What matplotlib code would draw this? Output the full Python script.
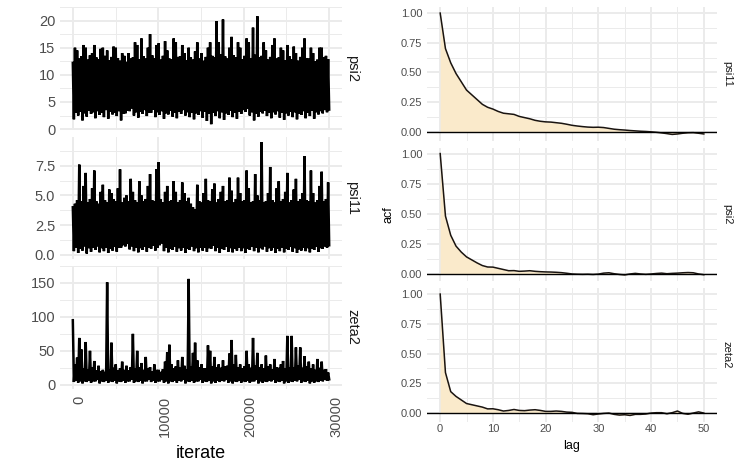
import matplotlib.pyplot as plt
import numpy as np

plt.rcParams['font.family'] = ['Liberation Sans', 'DejaVu Sans']

# trace data: alternating max / min per 250-iteration block
n_iter = 30000
psi2_hi = [12.2, 15.0, 14.5, 13.0, 13.4, 15.5, 15.0, 12.8, 13.6, 14.0,
           15.5, 13.2, 12.9, 14.8, 15.0, 13.5, 14.5, 12.7, 13.3, 15.2,
           15.0, 13.1, 12.6, 14.0, 13.5, 12.4, 14.0, 13.0, 13.2, 16.0,
           15.5, 12.9, 16.7, 13.4, 13.0, 15.0, 17.5, 13.6, 13.1, 15.5,
           15.8, 12.8, 13.5, 16.2, 14.5, 13.0, 12.9, 16.7, 16.0, 13.3,
           13.4, 15.5, 14.0, 12.7, 15.0, 13.2, 12.8, 14.3, 16.0, 13.0,
           14.0, 12.6, 13.3, 15.0, 16.0, 13.5, 13.2, 19.9, 16.0, 13.8,
           20.2, 13.4, 13.0, 15.0, 17.0, 13.6, 13.2, 16.0, 15.0, 12.9,
           13.5, 16.7, 16.0, 13.1, 18.7, 13.7, 20.8, 13.2, 13.5, 16.0,
           14.5, 12.8, 13.3, 15.5, 16.7, 13.0, 13.2, 15.0, 14.5, 12.7,
           15.5, 13.4, 12.9, 15.2, 14.0, 12.6, 13.3, 15.0, 16.7, 13.1,
           13.0, 15.0, 14.0, 12.5, 12.8, 15.0, 15.0, 13.2, 13.5, 12.9]
psi2_lo = [1.8, 3.0, 2.5, 3.2, 1.6, 2.9, 2.3, 3.4, 2.8, 3.1,
           2.0, 3.3, 2.6, 3.0, 2.2, 3.5, 1.9, 3.2, 2.7, 3.0,
           2.4, 3.3, 1.6, 2.8, 2.9, 3.4, 3.3, 3.8, 2.5, 3.1,
           2.1, 3.2, 2.8, 3.5, 2.4, 3.0, 3.0, 3.6, 2.2, 3.1,
           2.6, 3.3, 1.9, 2.9, 2.7, 3.4, 2.3, 3.0, 2.0, 3.2,
           2.8, 3.5, 2.5, 3.1, 2.2, 3.0, 1.8, 2.9, 2.6, 3.3,
           2.1, 3.2, 1.5, 2.8, 0.9, 3.0, 2.4, 3.3, 2.0, 3.1,
           1.7, 2.9, 2.6, 3.4, 2.2, 3.0, 1.9, 3.2, 2.8, 3.5,
           3.2, 3.7, 2.5, 3.1, 1.6, 2.8, 2.3, 3.2, 2.9, 3.4,
           2.4, 3.0, 2.0, 3.1, 2.7, 3.3, 2.1, 3.0, 1.7, 2.9,
           2.5, 3.2, 2.2, 3.1, 1.8, 2.8, 2.6, 3.3, 2.0, 3.0,
           2.4, 3.4, 1.9, 3.1, 2.7, 3.3, 2.9, 3.5, 3.1, 3.6]
psi11_hi = [4.0, 4.3, 4.6, 7.6, 4.5, 5.8, 6.9, 4.4, 4.7, 5.6,
            7.1, 4.5, 4.3, 5.3, 5.9, 4.6, 4.4, 5.5, 5.2, 4.7,
            4.5, 5.6, 7.2, 4.4, 4.8, 5.0, 4.5, 6.4, 5.3, 4.6,
            4.4, 6.2, 5.0, 4.5, 4.7, 5.8, 6.8, 4.6, 4.5, 7.2,
            7.8, 4.7, 4.4, 5.3, 5.8, 4.5, 4.6, 6.2, 5.3, 4.4,
            4.6, 6.1, 5.2, 4.5, 4.8, 4.3, 4.0, 3.8, 5.9, 4.5,
            4.4, 5.2, 6.4, 4.6, 4.5, 5.5, 6.0, 4.4, 4.7, 5.3,
            5.8, 4.5, 4.6, 6.5, 5.4, 4.4, 4.7, 6.5, 5.2, 4.5,
            4.6, 7.1, 5.6, 4.4, 4.5, 6.8, 5.0, 4.6, 9.5, 4.4,
            4.5, 5.2, 7.4, 4.6, 4.4, 5.6, 6.2, 4.5, 4.7, 5.3,
            6.9, 4.4, 4.6, 5.5, 6.4, 4.5, 4.7, 5.2, 8.3, 4.6,
            4.5, 7.1, 5.2, 4.4, 4.6, 5.8, 7.0, 4.5, 4.7, 6.1]
psi11_lo = [0.3, 0.6, 0.15, 0.5, 0.35, 0.7, 0.1, 0.55, 0.25, 0.6,
            0.4, 0.7, 0.2, 0.55, 0.3, 0.6, 0.15, 0.5, 0.35, 0.65,
            0.25, 0.6, 0.6, 0.8, 0.7, 0.9, 0.45, 0.7, 0.3, 0.6,
            0.2, 0.55, 0.4, 0.65, 0.25, 0.6, 0.5, 0.75, 0.35, 0.6,
            0.8, 0.95, 0.3, 0.6, 0.2, 0.5, 0.4, 0.65, 0.25, 0.55,
            0.35, 0.6, 0.15, 0.5, 0.4, 0.7, 0.3, 0.55, 0.2, 0.6,
            0.35, 0.6, 0.25, 0.55, 0.5, 0.75, 0.3, 0.6, 0.15, 0.5,
            0.4, 0.65, 0.25, 0.55, 0.2, 0.5, 0.35, 0.6, 0.3, 0.55,
            0.15, 0.5, 0.4, 0.65, 0.3, 0.6, 0.2, 0.55, 0.45, 0.7,
            0.25, 0.55, 0.35, 0.6, 0.15, 0.5, 0.3, 0.6, 0.2, 0.5,
            0.4, 0.65, 0.25, 0.55, 0.15, 0.45, 0.35, 0.6, 0.3, 0.55,
            0.2, 0.5, 0.4, 0.65, 0.25, 0.55, 0.5, 0.7, 0.6, 0.8]
zeta2_hi = [95, 30, 40, 69, 52, 24, 63, 22, 50, 26,
            35, 21, 28, 20, 22, 19, 151, 23, 62, 25,
            30, 21, 24, 34, 22, 28, 21, 26, 75, 24,
            50, 26, 32, 22, 41, 24, 26, 20, 30, 22,
            22, 19, 23, 34, 48, 59, 30, 24, 27, 36,
            25, 41, 28, 23, 156, 27, 47, 62, 36, 26,
            30, 24, 24, 58, 50, 27, 41, 26, 30, 25,
            36, 27, 28, 46, 66, 30, 44, 26, 30, 24,
            27, 50, 30, 25, 69, 28, 47, 26, 30, 24,
            43, 27, 30, 23, 38, 26, 25, 30, 35, 24,
            72, 25, 72, 26, 55, 28, 55, 25, 42, 27,
            34, 24, 30, 22, 38, 25, 34, 22, 23, 18]
zeta2_lo = [4, 6, 3, 5, 2, 5, 4, 6, 3, 5,
            5, 7, 2, 5, 4, 6, 3, 5, 4, 6,
            2, 5, 4, 6, 3, 5, 5, 7, 3, 5,
            4, 6, 2, 5, 5, 7, 4, 6, 3, 5,
            5, 7, 3, 5, 2, 5, 4, 6, 3, 6,
            5, 7, 2, 5, 4, 6, 3, 5, 5, 7,
            3, 5, 4, 6, 2, 5, 3, 6, 4, 6,
            5, 7, 3, 5, 2, 5, 4, 6, 3, 5,
            4, 6, 3, 5, 5, 7, 2, 5, 3, 5,
            4, 6, 5, 7, 3, 5, 4, 6, 2, 5,
            3, 5, 4, 6, 5, 7, 3, 5, 4, 6,
            2, 5, 3, 5, 4, 6, 5, 7, 6, 8]

# autocorrelation, lags 0..50
lags = np.arange(51)
acf_psi11 = [1.0, 0.70, 0.58, 0.49, 0.42, 0.35, 0.31, 0.27, 0.23, 0.205, 0.19, 0.17, 0.155, 0.15, 0.145,
             0.128, 0.118, 0.108, 0.095, 0.087, 0.082, 0.08, 0.075, 0.07, 0.062, 0.053, 0.047, 0.042, 0.038, 0.036,
             0.037, 0.034, 0.027, 0.02, 0.016, 0.013, 0.009, 0.006, 0.003, 0.001, -0.002, -0.006, -0.011, -0.017, -0.024,
             -0.02, -0.014, -0.01, -0.009, -0.014, -0.02]
acf_psi2 = [1.0, 0.48, 0.32, 0.23, 0.18, 0.14, 0.115, 0.09, 0.068, 0.056, 0.055, 0.045, 0.035, 0.025, 0.026,
            0.02, 0.022, 0.025, 0.02, 0.017, 0.015, 0.014, 0.012, 0.009, 0.004, -0.002, -0.004, -0.005, -0.004, -0.006,
            -0.003, 0.005, 0.008, 0.0, -0.006, -0.01, -0.002, 0.003, -0.002, -0.005, -0.002, 0.002, 0.005, 0.0, 0.003,
            0.005, 0.008, 0.01, 0.008, -0.002, -0.008]
acf_zeta2 = [1.0, 0.34, 0.18, 0.14, 0.11, 0.08, 0.07, 0.06, 0.05, 0.035, 0.036, 0.028, 0.017, 0.022, 0.03,
             0.022, 0.02, 0.025, 0.028, 0.022, 0.014, 0.014, 0.017, 0.014, 0.008, 0.006, -0.003, -0.004, -0.006, -0.014,
             -0.008, -0.003, 0.0, -0.011, -0.017, -0.014, -0.02, -0.011, -0.011, -0.008, 0.0, 0.003, 0.003, -0.006, 0.003,
             0.017, -0.003, -0.01, 0.0, 0.01, 0.0]

W, H = 747, 467
fig = plt.figure(figsize=(W / 100, H / 100), dpi=100)

grey92 = "#EBEBEB"

def box(x0, y0, x1, y1):
    return [x0 / W, 1 - y1 / H, (x1 - x0) / W, (y1 - y0) / H]

def style(ax, xmaj, xmin, ymaj, ymin, size):
    for s in ax.spines.values():
        s.set_visible(False)
    ax.set_xticks(xmaj)
    ax.set_xticks(xmin, minor=True)
    ax.set_yticks(ymaj)
    ax.set_yticks(ymin, minor=True)
    ax.grid(which="major", color=grey92, linewidth=1.4)
    ax.grid(which="minor", color=grey92, linewidth=0.7)
    ax.set_axisbelow(True)
    ax.tick_params(which="both", length=0, labelsize=size, labelcolor="#4D4D4D", pad=3.5)

def lims(lo, hi):
    r = hi - lo
    return lo - 0.05 * r, hi + 0.05 * r

# ---- left: traces
traces = [("psi2", psi2_hi, psi2_lo, [0, 5, 10, 15, 20], ["0", "5", "10", "15", "20"]),
          ("psi11", psi11_hi, psi11_lo, [0, 2.5, 5, 7.5], ["0.0", "2.5", "5.0", "7.5"]),
          ("zeta2", zeta2_hi, zeta2_lo, [0, 50, 100, 150], ["0", "50", "100", "150"])]
tops = [7, 136.5, 266]
ph = 122.6
for i, (name, hi, lo, yt, ytl) in enumerate(traces):
    ax = fig.add_axes(box(60, tops[i], 342, tops[i] + ph))
    vals = np.ravel(np.column_stack([hi, lo]))
    it = np.linspace(0, n_iter, len(vals))
    ln, = ax.plot(it, vals, color="black", linewidth=1.8, solid_joinstyle="miter")
    ln.set_path_effects([])
    ax.set_xlim(lims(0, n_iter))
    ax.set_ylim(lims(min(lo), max(hi)))
    step = yt[1] - yt[0]
    style(ax, [0, 10000, 20000, 30000], [5000, 15000, 25000], yt,
          [v + step / 2 for v in yt], 10.5)
    ax.set_yticklabels(ytl)
    if i < 2:
        ax.tick_params(axis="x", labelbottom=False)
    else:
        ax.set_xticklabels(["0", "10000", "20000", "30000"], rotation=90, ha="left", va="top")
        ax.tick_params(axis="x", pad=5)
    fig.text(352 / W, 1 - (tops[i] + ph / 2) / H, name, rotation=-90, ha="center", va="center",
             fontsize=10.5, color="#1A1A1A")

fig.text(201 / W, 1 - 454 / H, "iterate", ha="center", va="center", fontsize=13)

# ---- right: autocorrelation
acfs = [("psi11", acf_psi11), ("psi2", acf_psi2), ("zeta2", acf_zeta2)]
rtops = [7, 147.5, 288]
rh = 133.5
for i, (name, a) in enumerate(acfs):
    ax = fig.add_axes(box(427, rtops[i], 717, rtops[i] + rh))
    ax.fill_between(lags, a, 0, color="#FAEACB", linewidth=0)
    ax.plot(lags, a, color="#1A1410", linewidth=1.1)
    ax.axhline(0, color="black", linewidth=1.0)
    ax.set_xlim(lims(0, 50))
    ax.set_ylim(lims(min(a), max(a)))
    style(ax, [0, 10, 20, 30, 40, 50], [5, 15, 25, 35, 45],
          [0, 0.25, 0.5, 0.75, 1.0], [0.125, 0.375, 0.625, 0.875], 8)
    ax.set_yticklabels(["0.00", "0.25", "0.50", "0.75", "1.00"])
    if i < 2:
        ax.tick_params(axis="x", labelbottom=False)
    else:
        ax.tick_params(axis="x", pad=2)
    fig.text(727 / W, 1 - (rtops[i] + rh / 2) / H, name, rotation=-90, ha="center", va="center",
             fontsize=8, color="#1A1A1A")

fig.text(388 / W, 1 - 214.5 / H, "acf", rotation=90, ha="center", va="center", fontsize=9)
fig.text(572 / W, 1 - 446 / H, "lag", ha="center", va="center", fontsize=9)

plt.savefig("out.png", dpi=100)
